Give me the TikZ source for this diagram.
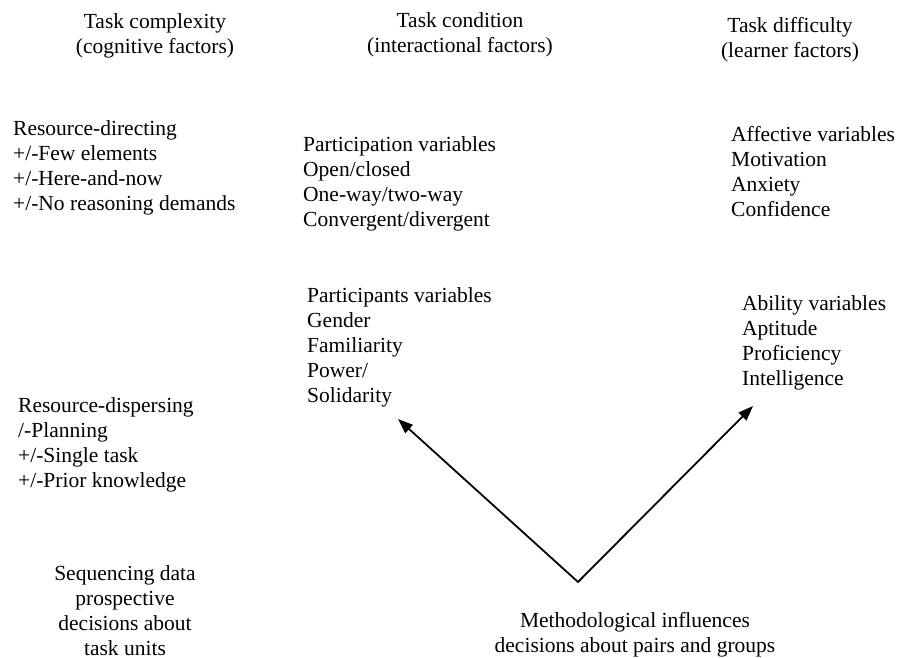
\documentclass[tikz,border=0pt]{standalone}
\usepackage{fontspec}
\setmainfont{Liberation Serif}
\usetikzlibrary{arrows.meta}
\tikzset{
  ttl/.style={anchor=north,inner sep=0pt,align=center},
  blk/.style={anchor=north west,inner sep=0pt,align=left},
  infl/.style={line width=1.8pt,-{Triangle[length=15pt,width=11pt]}}
}
\begin{document}
\begin{tikzpicture}[x=1pt,y=-1pt,line cap=round,line join=round,
  font=\fontsize{21.5}{25}\selectfont]
  \useasboundingbox (0,0) rectangle (898,658);
  % column headings
  \node[ttl] (complexity) at (155,13) {Task complexity\\(cognitive factors)};
  \node[ttl] (condition) at (460,12) {Task condition\\(interactional factors)};
  \node[ttl] (difficulty) at (790,17) {Task difficulty\\(learner factors)};
  % upper row
  \node[blk] (resdir) at (13,120) {Resource-directing\\+/-Few elements\\+/-Here-and-now\\+/-No reasoning demands};
  \node[blk] (partn) at (303,136) {Participation variables\\Open/closed\\One-way/two-way\\Convergent/divergent};
  \node[blk] (affect) at (731,126) {Affective variables\\Motivation\\Anxiety\\Confidence};
  % lower row
  \node[blk] (partc) at (307,287) {Participants variables\\Gender\\Familiarity\\Power/\\Solidarity};
  \node[blk] (ability) at (742,295) {Ability variables\\Aptitude\\Proficiency\\Intelligence};
  \node[blk] (resdisp) at (18,397) {Resource-dispersing\\/-Planning\\+/-Single task\\+/-Prior knowledge};
  \node[ttl] (seqdata) at (125,565) {Sequencing data\\prospective\\decisions about\\task units};
  \node[ttl] (method) at (635,612) {Methodological influences\\decisions about pairs and groups};
  % arrows
  \coordinate (apex) at (578,582);
  \coordinate (lefttip) at (398,419);
  \coordinate (righttip) at (753,406);
  \draw[infl] (apex) -- (lefttip);
  \draw[infl] (apex) -- (righttip);
\end{tikzpicture}
\end{document}
